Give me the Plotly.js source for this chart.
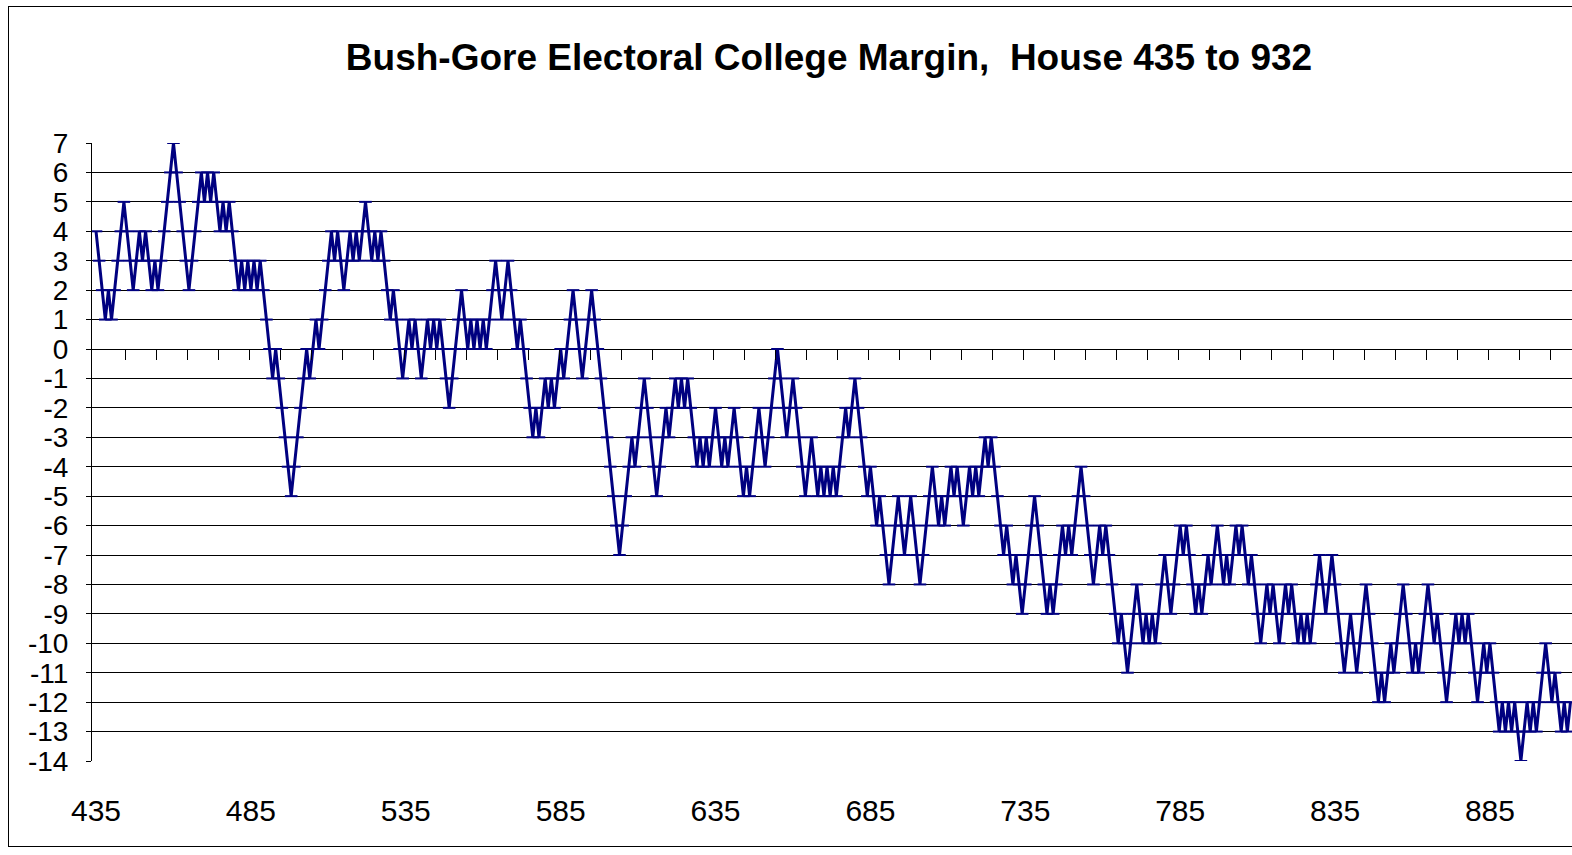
<!DOCTYPE html>
<html>
<head>
<meta charset="utf-8">
<script src="https://cdn.plot.ly/plotly-3.0.1.min.js"></script>
<style>
  html, body { margin:0; padding:0; background:#fff; overflow:hidden; }
  #wrap { position:relative; width:1572px; height:855px; }
  #chart { position:absolute; left:0; top:0; width:1572px; height:855px; }
  #frame { position:absolute; left:8px; top:6px; width:1600px; height:839px; border:1px solid #000; pointer-events:none; }
</style>
</head>
<body>
<div id="wrap">
  <div id="chart"></div>
  <div id="frame"></div>
</div>
<script>
// House size of the first point; each following value is the next house size
const firstHouse = 435;

// Bush minus Gore electoral-vote margin for house sizes 435, 436, ... (visible part)
const margins = [
  4,3,2,1,2,1,2,3,4,5,
  4,3,2,3,4,3,4,3,2,3,
  2,3,4,5,6,7,6,5,4,3,
  2,3,4,5,6,5,6,5,6,5,
  4,5,4,5,4,3,2,3,2,3,
  2,3,2,3,2,1,0,-1,0,-1,
  -2,-3,-4,-5,-4,-3,-2,-1,0,-1,
  0,1,0,1,2,3,4,3,4,3,
  2,3,4,3,4,3,4,5,4,3,
  4,3,4,3,2,1,2,1,0,-1,
  0,1,0,1,0,-1,0,1,0,1,
  0,1,0,-1,-2,-1,0,1,2,1,
  0,1,0,1,0,1,0,1,2,3,
  2,1,2,3,2,1,0,1,0,-1,
  -2,-3,-2,-3,-2,-1,-2,-1,-2,-1,
  0,-1,0,1,2,1,0,-1,0,1,
  2,1,0,-1,-2,-3,-4,-5,-6,-7,
  -6,-5,-4,-3,-4,-3,-2,-1,-2,-3,
  -4,-5,-4,-3,-2,-3,-2,-1,-2,-1,
  -2,-1,-2,-3,-4,-3,-4,-3,-4,-3,
  -2,-3,-4,-3,-4,-3,-2,-3,-4,-5,
  -4,-5,-4,-3,-2,-3,-4,-3,-2,-1,
  0,-1,-2,-3,-2,-1,-2,-3,-4,-5,
  -4,-3,-4,-5,-4,-5,-4,-5,-4,-5,
  -4,-3,-2,-3,-2,-1,-2,-3,-4,-5,
  -4,-5,-6,-5,-6,-7,-8,-7,-6,-5,
  -6,-7,-6,-5,-6,-7,-8,-7,-6,-5,
  -4,-5,-6,-5,-6,-5,-4,-5,-4,-5,
  -6,-5,-4,-5,-4,-5,-4,-3,-4,-3,
  -4,-5,-6,-7,-6,-7,-8,-7,-8,-9,
  -8,-7,-6,-5,-6,-7,-8,-9,-8,-9,
  -8,-7,-6,-7,-6,-7,-6,-5,-4,-5,
  -6,-7,-8,-7,-6,-7,-6,-7,-8,-9,
  -10,-9,-10,-11,-10,-9,-8,-9,-10,-9,
  -10,-9,-10,-9,-8,-7,-8,-9,-8,-7,
  -6,-7,-6,-7,-8,-9,-8,-9,-8,-7,
  -8,-7,-6,-7,-8,-7,-8,-7,-6,-7,
  -6,-7,-8,-7,-8,-9,-10,-9,-8,-9,
  -8,-9,-10,-9,-8,-9,-8,-9,-10,-9,
  -10,-9,-10,-9,-8,-7,-8,-9,-8,-7,
  -8,-9,-10,-11,-10,-9,-10,-11,-10,-9,
  -8,-9,-10,-11,-12,-11,-12,-11,-10,-11,
  -10,-9,-8,-9,-10,-11,-10,-11,-10,-9,
  -8,-9,-10,-9,-10,-11,-12,-11,-10,-9,
  -10,-9,-10,-9,-10,-11,-12,-11,-10,-11,
  -10,-11,-12,-13,-12,-13,-12,-13,-12,-13,
  -14,-13,-12,-13,-12,-13,-12,-11,-10,-11,
  -12,-11,-12,-13,-12,-13,-12
];

// Axis labels
const xTickValues = [435,485,535,585,635,685,735,785,835,885];
const xTickLabels = ['435','485','535','585','635','685','735','785','835','885'];
const xMinorTicks = [444.5,454.5,464.5,474.5,484.5,494.5,504.5,514.5,524.5,534.5,544.5,554.5,564.5,574.5,584.5,594.5,604.5,614.5,624.5,634.5,644.5,654.5,664.5,674.5,684.5,694.5,704.5,714.5,724.5,734.5,744.5,754.5,764.5,774.5,784.5,794.5,804.5,814.5,824.5,834.5,844.5,854.5,864.5,874.5,884.5,894.5,904.5];
const yTickValues = [7,6,5,4,3,2,1,0,-1,-2,-3,-4,-5,-6,-7,-8,-9,-10,-11,-12,-13,-14];

const houses = margins.map((_, i) => firstHouse + i);

const navy = '#000080';
const font = 'Liberation Sans, Arial, sans-serif';

const trace = {
  x: houses,
  y: margins,
  type: 'scatter',
  mode: 'lines+markers',
  line: { color: navy, width: 3 },
  marker: { symbol: 'line-ew', size: 9, color: navy, line: { color: navy, width: 2 } },
  hoverinfo: 'x+y',
  cliponaxis: true
};

// carrier for the category tick marks drawn on the zero line (no visible marks)
const tickCarrier = {
  x: xMinorTicks,
  y: xMinorTicks.map(() => null),
  xaxis: 'x2',
  yaxis: 'y',
  type: 'scatter',
  mode: 'lines',
  hoverinfo: 'skip',
  showlegend: false
};

const layout = {
  width: 1572,
  height: 855,
  margin: { l: 92, r: 0, t: 143, b: 94, pad: 0 },
  paper_bgcolor: 'rgba(0,0,0,0)',
  plot_bgcolor: '#ffffff',
  showlegend: false,
  font: { family: font, color: '#000' },
  title: {
    text: '<b>Bush-Gore Electoral College Margin,\u00a0 House 435 to 932</b>',
    font: { family: font, size: 37, color: '#000' },
    xref: 'container', yref: 'container',
    x: 829 / 1572, xanchor: 'center',
    y: 1 - 57 / 855, yanchor: 'middle'
  },
  xaxis: {
    range: [433.7, 911.5],
    showgrid: false,
    zeroline: false,
    showline: false,
    tickmode: 'array',
    tickvals: xTickValues,
    ticktext: xTickLabels,
    ticks: '',
    tickfont: { family: font, size: 30, color: '#000' },
    ticklabelstandoff: 29,
    fixedrange: true
  },
  xaxis2: {
    overlaying: 'x',
    matches: 'x',
    anchor: 'free',
    position: 14 / 21,
    side: 'bottom',
    showgrid: false,
    zeroline: false,
    showline: false,
    tickmode: 'array',
    tickvals: xMinorTicks,
    ticks: 'outside',
    ticklen: 10,
    tickwidth: 1,
    tickcolor: '#000',
    showticklabels: false
  },
  yaxis: {
    range: [-14, 7],
    tickmode: 'array',
    tickvals: yTickValues,
    ticktext: yTickValues.map(String),
    showgrid: true,
    gridcolor: '#000',
    gridwidth: 1,
    zeroline: false,
    showline: true,
    linecolor: '#000',
    linewidth: 1,
    ticks: 'outside',
    ticklen: 5,
    tickcolor: '#000',
    tickfont: { family: font, size: 28, color: '#000' },
    ticklabelstandoff: 12,
    fixedrange: true
  }
};

Plotly.newPlot('chart', [tickCarrier, trace], layout, { displayModeBar: false, staticPlot: true });
</script>
</body>
</html>
